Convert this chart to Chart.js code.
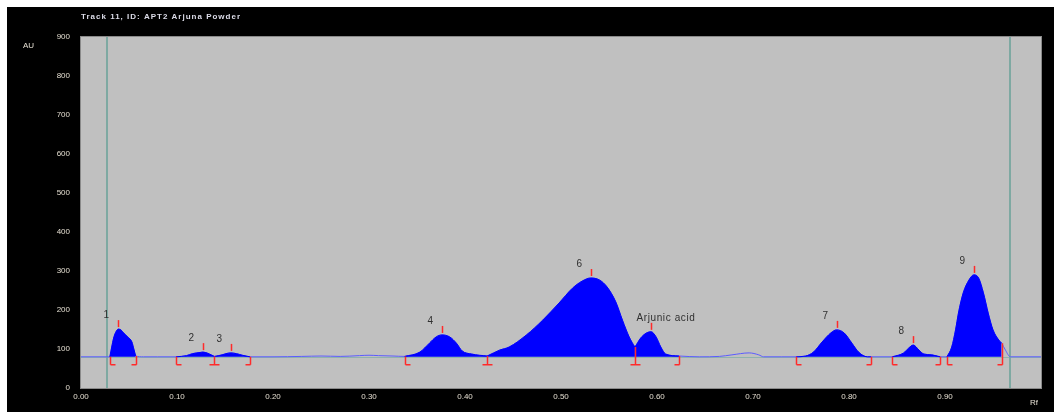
<!DOCTYPE html>
<html>
<head>
<meta charset="utf-8">
<script src="https://cdn.jsdelivr.net/npm/chart.js@4"></script>
<style>
  html, body { margin: 0; padding: 0; background: #fff; }
  #wrap { width: 1054px; height: 412px; position: relative; }
</style>
</head>
<body>
<div id="wrap"><canvas id="c" width="1054" height="412"></canvas></div>
<script>
// Densitogram of one HPTLC track (absorbance vs Rf)
const trackTitle = 'Track 11, ID: APT2 Arjuna Powder';
const yUnit = 'AU';
const xUnit = 'Rf';
const rfTicks = [0, 0.1, 0.2, 0.3, 0.4, 0.5, 0.6, 0.7, 0.8, 0.9];
const auTicks = [0, 100, 200, 300, 400, 500, 600, 700, 800, 900];
const scanWindow = [0.027, 0.968];   // application / front markers
const baselineAU = 80;

// scanned signal
const signalRf = [
  0.000, 0.029, 0.030, 0.032, 0.034, 0.036, 0.039, 0.042, 0.044, 0.049, 0.053, 0.055, 0.057,
  0.065, 0.080, 0.099, 0.110, 0.116, 0.124, 0.127, 0.132, 0.139, 0.147, 0.151, 0.156, 0.162,
  0.168, 0.176, 0.200, 0.230, 0.250, 0.270, 0.290, 0.300, 0.310, 0.325, 0.337, 0.353, 0.363,
  0.370, 0.376, 0.384, 0.391, 0.397, 0.407, 0.423, 0.436, 0.446, 0.464, 0.481, 0.498, 0.512,
  0.522, 0.531, 0.540, 0.548, 0.557, 0.564, 0.571, 0.577, 0.583, 0.589, 0.594, 0.599, 0.604,
  0.609, 0.623, 0.644, 0.665, 0.678, 0.696, 0.706, 0.711, 0.730, 0.745, 0.755, 0.763, 0.772,
  0.781, 0.787, 0.795, 0.803, 0.810, 0.819, 0.823, 0.845, 0.857, 0.862, 0.867, 0.873, 0.878,
  0.886, 0.895, 0.902, 0.907, 0.911, 0.914, 0.919, 0.925, 0.930, 0.935, 0.940, 0.945, 0.950,
  0.956, 0.959, 0.963, 0.968, 1.000
];
const signalAU = [
  80, 80, 80, 105, 128, 142, 151, 148, 142, 130, 118, 100, 82,
  80, 80, 80, 83, 88, 91, 92, 89, 81, 85, 88, 90, 88,
  84, 80, 80, 81, 82, 81, 83, 84, 83, 82, 81, 92, 115,
  131, 136, 131, 115, 95, 87, 82, 97, 105, 136, 174, 218, 256,
  274, 282, 277, 259, 221, 174, 131, 105, 128, 141, 144, 131, 105,
  87, 82, 80, 81, 85, 90, 85, 80, 80, 80, 82, 92, 118,
  141, 149, 141, 115, 92, 80, 80, 80, 90, 102, 110, 97, 87,
  85, 80, 80, 105, 149, 192, 244, 277, 290, 282, 244, 192, 149,
  123, 115, 97, 80, 80
];

// integrated peaks
const peakNames = ['1', '2', '3', '4', '6', 'Arjunic acid', '7', '8', '9'];
const peakStart = [0.030, 0.099, 0.139, 0.337, 0.423, 0.577, 0.745, 0.845, 0.902];
const peakEnd   = [0.057, 0.139, 0.176, 0.423, 0.577, 0.623, 0.823, 0.895, 0.959];

const signalPoints = signalRf.map((x, i) => ({ x, y: signalAU[i] }));
const eps = 1e-9;
const peakPoints = peakStart.map((s, i) =>
  signalPoints.filter(p => p.x >= s - eps && p.x <= peakEnd[i] + eps));

const auAt = rf => {
  const p = signalPoints.find(q => Math.abs(q.x - rf) < eps);
  return p ? p.y : baselineAU;
};

const FONT = 'Arial, "Liberation Sans", sans-serif';
Chart.defaults.font.family = FONT;

const frame = {
  id: 'frame',
  beforeDraw(chart) {
    const { ctx, chartArea: a, width, height } = chart;
    ctx.save();
    ctx.fillStyle = '#ffffff';
    ctx.fillRect(0, 0, width, height);
    ctx.fillStyle = '#000000';
    ctx.fillRect(7, 7, width - 7, height - 7);
    ctx.fillStyle = '#c0c0c0';
    ctx.fillRect(a.left, a.top, a.right - a.left, a.bottom - a.top);
    ctx.strokeStyle = '#8a8a8a';
    ctx.lineWidth = 1;
    ctx.strokeRect(a.left - 0.5, a.top - 0.5, a.right - a.left + 1, a.bottom - a.top + 1);

    ctx.fillStyle = '#dcdce8';
    ctx.font = 'bold 8px ' + FONT;
    ctx.letterSpacing = '1px';
    ctx.textBaseline = 'middle';
    ctx.textAlign = 'left';
    ctx.fillText(trackTitle, a.left, 17);
    ctx.letterSpacing = '0px';
    ctx.font = '8px ' + FONT;
    ctx.fillStyle = '#e6e0d4';
    ctx.fillText(yUnit, 23, 46);
    ctx.fillText(xUnit, 1030, 403);
    ctx.restore();
  },
  beforeDatasetsDraw(chart) {
    const { ctx, chartArea: a, scales: { x, y } } = chart;
    ctx.save();
    ctx.strokeStyle = '#8fb3ad';
    ctx.lineWidth = 1;
    const yb = Math.round(y.getPixelForValue(baselineAU)) + 0.5;
    ctx.beginPath();
    ctx.moveTo(a.left, yb);
    ctx.lineTo(a.right, yb);
    ctx.stroke();
    ctx.strokeStyle = '#7ea9a2';
    ctx.lineWidth = 2;
    scanWindow.forEach(rf => {
      const px = Math.round(x.getPixelForValue(rf));
      ctx.beginPath();
      ctx.moveTo(px, a.top);
      ctx.lineTo(px, a.bottom);
      ctx.stroke();
    });
    ctx.restore();
  },
  afterDatasetsDraw(chart) {
    const { ctx, scales: { x, y } } = chart;
    const yb = y.getPixelForValue(baselineAU);
    ctx.save();
    ctx.strokeStyle = '#ff2a2a';
    ctx.lineWidth = 1.5;
    // boundary brackets
    const bounds = new Map();
    peakStart.forEach((s, i) => {
      const k = s.toFixed(3);
      bounds.set(k, Object.assign(bounds.get(k) || {}, { rf: s, right: true }));
      const e = peakEnd[i].toFixed(3);
      bounds.set(e, Object.assign(bounds.get(e) || {}, { rf: peakEnd[i], left: true }));
    });
    bounds.forEach(b => {
      const px = Math.round(x.getPixelForValue(b.rf)) + 0.5;
      const top = Math.min(y.getPixelForValue(auAt(b.rf)), yb);
      const bot = yb + 8;
      ctx.beginPath();
      ctx.moveTo(px, top);
      ctx.lineTo(px, bot);
      if (b.right) { ctx.moveTo(px, bot); ctx.lineTo(px + 5, bot); }
      if (b.left) { ctx.moveTo(px, bot); ctx.lineTo(px - 5, bot); }
      ctx.stroke();
    });
    // apex ticks and peak names
    ctx.font = '10px ' + FONT;
    ctx.textAlign = 'left';
    ctx.textBaseline = 'middle';
    peakPoints.forEach((pts, i) => {
      const apex = pts.reduce((m, p) => (p.y > m.y ? p : m), pts[0]);
      const px = Math.round(x.getPixelForValue(apex.x)) + 0.5;
      const py = y.getPixelForValue(apex.y);
      ctx.strokeStyle = '#ff2a2a';
      ctx.beginPath();
      ctx.moveTo(px, py - 2);
      ctx.lineTo(px, py - 9);
      ctx.stroke();
      ctx.fillStyle = '#303030';
      ctx.letterSpacing = peakNames[i].length > 2 ? '0.6px' : '0px';
      ctx.fillText(peakNames[i], px - 15, py - 14);
    });
    ctx.restore();
  }
};

const datasets = peakPoints.map((pts, i) => ({
  label: peakNames[i],
  data: pts,
  borderColor: '#0000ff',
  backgroundColor: '#0000ff',
  borderWidth: 1,
  pointRadius: 0,
  fill: { value: baselineAU },
  cubicInterpolationMode: 'monotone',
  order: 0
}));
datasets.push({
  label: 'signal',
  data: signalPoints,
  borderColor: '#5c5cff',
  borderWidth: 1,
  pointRadius: 0,
  fill: false,
  cubicInterpolationMode: 'monotone',
  order: 1
});

new Chart(document.getElementById('c'), {
  type: 'line',
  data: { datasets },
  plugins: [frame],
  options: {
    responsive: false,
    animation: false,
    devicePixelRatio: 1,
    layout: { padding: { top: 37, right: 13, left: 0, bottom: 0 } },
    plugins: { legend: { display: false }, tooltip: { enabled: false } },
    scales: {
      x: {
        type: 'linear',
        min: 0, max: 1,
        afterFit: s => { s.height = 24; },
        afterBuildTicks: s => { s.ticks = rfTicks.map(v => ({ value: v })); },
        grid: { display: false, drawTicks: false },
        border: { display: false },
        ticks: {
          padding: 4,
          maxRotation: 0,
          autoSkip: false,
          color: '#e2dccf',
          font: { size: 8 },
          callback: v => v.toFixed(2)
        }
      },
      y: {
        min: 0, max: 900,
        afterFit: s => { s.width = 81; },
        afterBuildTicks: s => { s.ticks = auTicks.map(v => ({ value: v })); },
        grid: { display: false, drawTicks: false },
        border: { display: false },
        ticks: {
          padding: 11,
          autoSkip: false,
          color: '#e2dccf',
          font: { size: 8 },
          callback: v => String(v)
        }
      }
    }
  }
});
</script>
</body>
</html>
